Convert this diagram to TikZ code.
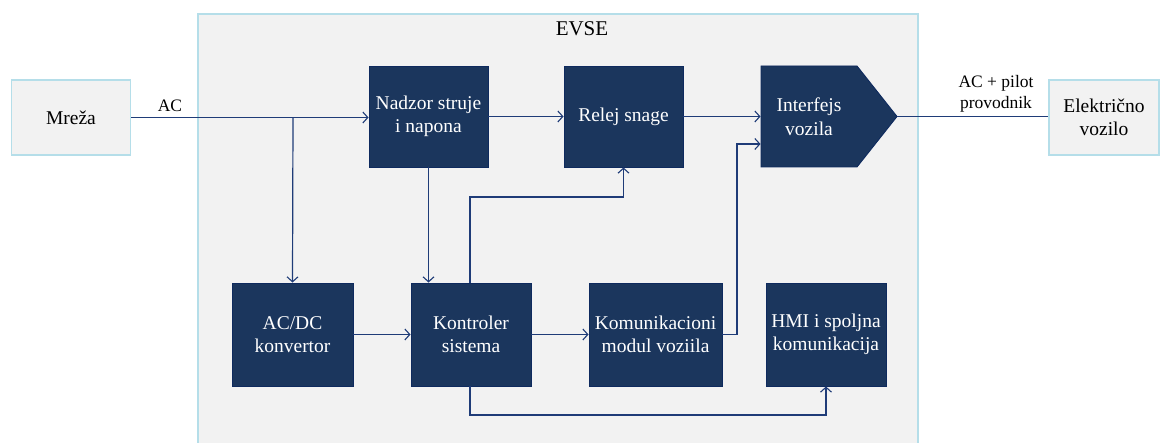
\documentclass[tikz,border=0pt]{standalone}
\usepackage{fontspec}
\setmainfont{Liberation Serif}
\usetikzlibrary{arrows.meta}

\definecolor{navy}{HTML}{1B365D}
\definecolor{navyedge}{HTML}{0E2A5E}
\definecolor{wire}{HTML}{1F3C78}
\definecolor{panel}{HTML}{F2F2F2}
\definecolor{paneledge}{HTML}{B5DEE9}

\tikzset{
  block/.style={fill=navy, draw=navyedge, line width=0.9pt, text=white,
    align=center, inner sep=0pt, font=\fontsize{19.5}{23.5}\selectfont},
  extbox/.style={fill=panel, draw=paneledge, line width=1.2pt, text=black,
    align=center, inner sep=0pt, font=\fontsize{19.5}{23.5}\selectfont},
  wirelabel/.style={text=black, align=center, inner sep=0pt,
    font=\fontsize{17.5}{21}\selectfont},
  conn/.style={draw=wire, line width=1.2pt},
  arr/.style={conn, -{Straight Barb[length=5pt,width=11pt,line width=1.1pt]}}
}

\begin{document}
\begin{tikzpicture}[x=1pt,y=-1pt]
  \useasboundingbox (0,0) rectangle (1160,443);

  % equipment enclosure
  \draw[fill=panel, draw=paneledge, line width=1.2pt] (198,14) rectangle (918,450);
  \node[text=black, inner sep=0pt, font=\fontsize{21}{25}\selectfont] (evse) at (582,29) {EVSE};

  % outside blocks
  \node[extbox, minimum width=119pt, minimum height=75pt] (mreza) at (71,117.5) {Mreža};
  \node[extbox, minimum width=110pt, minimum height=75pt] (ev) at (1104,117.5) {Električno\\vozilo};

  % upper row
  \node[block, minimum width=119pt, minimum height=101pt] (nadzor) at (428.5,116.5) {Nadzor struje\\i napona};
  \node[block, minimum width=119pt, minimum height=101pt] (relej) at (623.5,116.5) {Relej snage};
  \fill[navy, draw=navyedge, line width=0.9pt]
    (761,66) -- (857,66) -- (897,116.5) -- (857,167) -- (761,167) -- cycle;
  \node[block, fill=none, draw=none, minimum width=96pt, minimum height=101pt] (iface) at (809,116.5) {Interfejs\\vozila};
  \coordinate (tip) at (897,116.5);

  % lower row
  \node[block, minimum width=121pt, minimum height=103pt] (acdc) at (292.5,334.5) {AC/DC\\konvertor};
  \node[block, minimum width=120pt, minimum height=103pt] (kontroler) at (471,334.5) {Kontroler\\sistema};
  \node[block, minimum width=133pt, minimum height=103pt] (komun) at (655.5,334.5) {Komunikacioni\\modul voziila};
  \node[block, minimum width=120pt, minimum height=103pt] (hmi) at (826,334.5) {HMI i spoljna\\komunikacija};

  % routing points
  \coordinate (split) at (293,117.5);
  \coordinate (k2r) at (470,197);
  \coordinate (c2i) at (737,144);
  \coordinate (k2h) at (826,415);

  % connectors
  \draw[arr] (mreza.east) -- (mreza.east -| nadzor.west);
  \node[wirelabel] (aclabel) at (170,106) {AC};
  \draw[arr] (split) -- (acdc.north);
  \draw[arr] (nadzor.east) -- (relej.west);
  \draw[arr] (relej.east) -- (relej.east -| iface.west);
  \draw[arr] (nadzor.south) -- (nadzor.south |- kontroler.north);
  \draw[arr] (kontroler.north -| k2r) |- (k2r) -| (relej.south);
  \draw[arr] (acdc.east) -- (kontroler.west);
  \draw[arr] (kontroler.east) -- (komun.west);
  \draw[arr] (komun.east) -| (c2i) -- (c2i -| iface.west);
  \draw[arr] (kontroler.south -| k2r) |- (k2h) -- (hmi.south);
  \draw[conn] (tip) -- (tip -| ev.west);
  \node[wirelabel] (pilot) at (996,93.5) {AC + pilot\\provodnik};
\end{tikzpicture}
\end{document}
